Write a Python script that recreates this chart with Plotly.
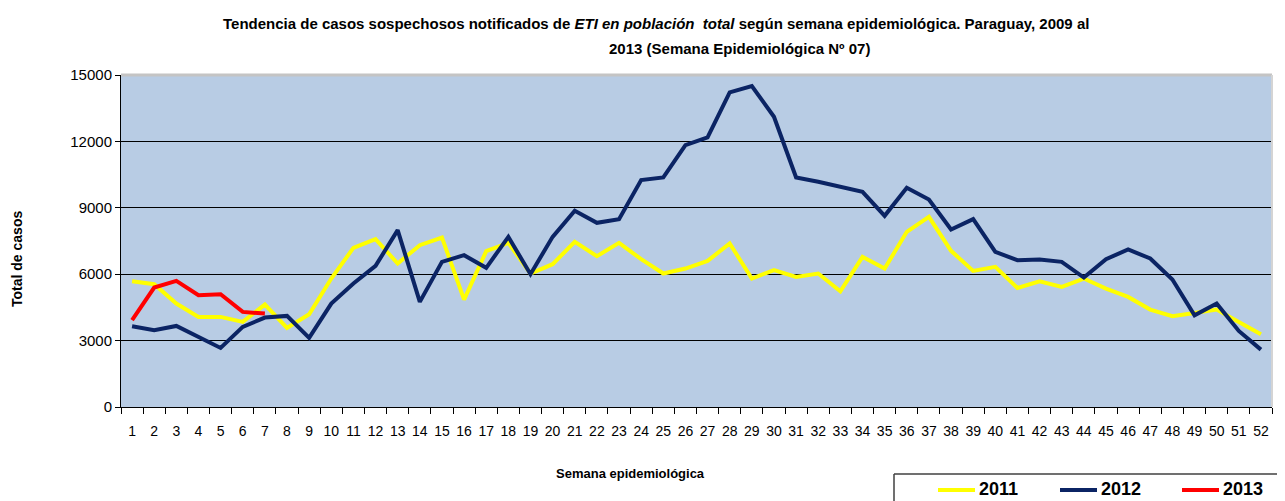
import plotly.graph_objects as go

weeks = [str(i) for i in range(1, 53)]

y2011 = [5683, 5548, 4673, 4070, 4070, 3844, 4628, 3573, 4191, 5804,
         7191, 7583, 6482, 7312, 7658, 4854, 7040, 7417, 6030, 6452,
         7462, 6814, 7417, 6678, 6030, 6256, 6603, 7387, 5804, 6181,
         5879, 6030, 5231, 6784, 6256, 7915, 8593, 7055, 6151, 6332,
         5382, 5683, 5427, 5804, 5352, 4975, 4402, 4101, 4251, 4402,
         3844, 3286]

y2012 = [3648, 3467, 3663, 3166, 2668, 3618, 4040, 4116, 3121, 4673,
         5578, 6377, 7990, 4749, 6558, 6859, 6287, 7688, 6000, 7688,
         8864, 8322, 8487, 10251, 10372, 11834, 12181, 14216, 14502, 13115,
         10372, 10176, 9950, 9724, 8638, 9905, 9377, 8020, 8487, 7010,
         6633, 6663, 6558, 5849, 6678, 7116, 6709, 5759, 4146, 4673,
         3437, 2593]

y2013 = [3920, 5397, 5698, 5050, 5095, 4296, 4221]

series_names = ["2011", "2012", "2013"]
series_colors = ["#FFFF00", "#0B2464", "#FF0000"]

ytick_vals = [0, 3000, 6000, 9000, 12000, 15000]
ytick_text = ["0", "3000", "6000", "9000", "12000", "15000"]

FONT = "Liberation Sans, Arial, sans-serif"

# The page body adds an 8px offset; the figure is sized to fill the rest of the window.
OFF = 8
FIG_W, FIG_H = 1285 - OFF, 501 - OFF

# plot area in screen pixels
L, R, T, B = 121, 1272, 75, 407
W, H = R - L, B - T


def px(x):
    return (x - L) / W


def py(y):
    return (B - y) / H


fig = go.Figure()
for name, color, vals in zip(series_names, series_colors, [y2011, y2012, y2013]):
    fig.add_trace(go.Scatter(x=weeks[:len(vals)], y=vals, mode="lines", name=name,
                             line=dict(color=color, width=4)))

annotations = [
    dict(xref="paper", yref="paper", x=px(656), y=py(23),
         xanchor="center", yanchor="middle", showarrow=False,
         text="<b>Tendencia de casos sospechosos notificados de <i>ETI en población  total</i> según semana epidemiológica. Paraguay, 2009 al</b>",
         font=dict(family=FONT, size=15, color="black")),
    dict(xref="paper", yref="paper", x=px(740), y=py(49),
         xanchor="center", yanchor="middle", showarrow=False,
         text="<b>2013 (Semana Epidemiológica Nº 07)</b>",
         font=dict(family=FONT, size=15, color="black")),
    dict(xref="paper", yref="paper", x=px(630), y=py(473),
         xanchor="center", yanchor="middle", showarrow=False,
         text="<b>Semana epidemiológica</b>",
         font=dict(family=FONT, size=13, color="black")),
    dict(xref="paper", yref="paper", x=px(17), y=py(259),
         xanchor="center", yanchor="middle", showarrow=False, textangle=-90,
         text="<b>Total de casos</b>",
         font=dict(family=FONT, size=14, color="black")),
]

shapes = [
    dict(type="line", xref="paper", yref="paper", x0=0, x1=1, y0=1, y1=1,
         line=dict(color="#C4C4C4", width=3)),
    dict(type="line", xref="paper", yref="paper", x0=1, x1=1, y0=0, y1=1,
         line=dict(color="#D4D4D4", width=2)),
    # legend box (only top/left edges visible in the reference)
    dict(type="line", xref="paper", yref="paper", x0=px(894), x1=px(1290),
         y0=py(474), y1=py(474), line=dict(color="#404040", width=1.5)),
    dict(type="line", xref="paper", yref="paper", x0=px(894), x1=px(894),
         y0=py(474), y1=py(505), line=dict(color="#404040", width=1.5)),
]

legend_line_x = [938, 1060, 1182]
for name, color, lx in zip(series_names, series_colors, legend_line_x):
    shapes.append(dict(type="line", xref="paper", yref="paper",
                       x0=px(lx), x1=px(lx + 37), y0=py(490), y1=py(490),
                       line=dict(color=color, width=4)))
    annotations.append(dict(xref="paper", yref="paper", x=px(lx + 39), y=py(489),
                            xanchor="left", yanchor="middle", showarrow=False,
                            text="<b>" + name + "</b>",
                            font=dict(family=FONT, size=18, color="black")))

fig.update_layout(
    width=FIG_W, height=FIG_H,
    margin=dict(l=L - OFF, r=FIG_W - (R - OFF), t=T - OFF, b=FIG_H - (B - OFF),
                autoexpand=False),
    paper_bgcolor="white",
    plot_bgcolor="#B8CCE4",
    font=dict(family=FONT, color="black"),
    showlegend=False,
    annotations=annotations,
    shapes=shapes,
)

fig.update_xaxes(type="category", range=[-0.5, len(weeks) - 0.5],
                 tickson="boundaries", ticks="outside", ticklen=6,
                 tickcolor="black", showgrid=False, showline=True, linecolor="black",
                 linewidth=1, tickangle=0, ticklabelstandoff=11,
                 tickfont=dict(family=FONT, size=14, color="black"),
                 zeroline=False)
fig.update_yaxes(range=[0, 15000], tickvals=ytick_vals, ticktext=ytick_text,
                 ticks="outside", ticklen=5,
                 tickcolor="black", showgrid=True, gridcolor="black", gridwidth=1,
                 showline=True, linecolor="black", linewidth=1, zeroline=False,
                 tickfont=dict(family=FONT, size=15, color="black"))

fig.write_html("out.html")
